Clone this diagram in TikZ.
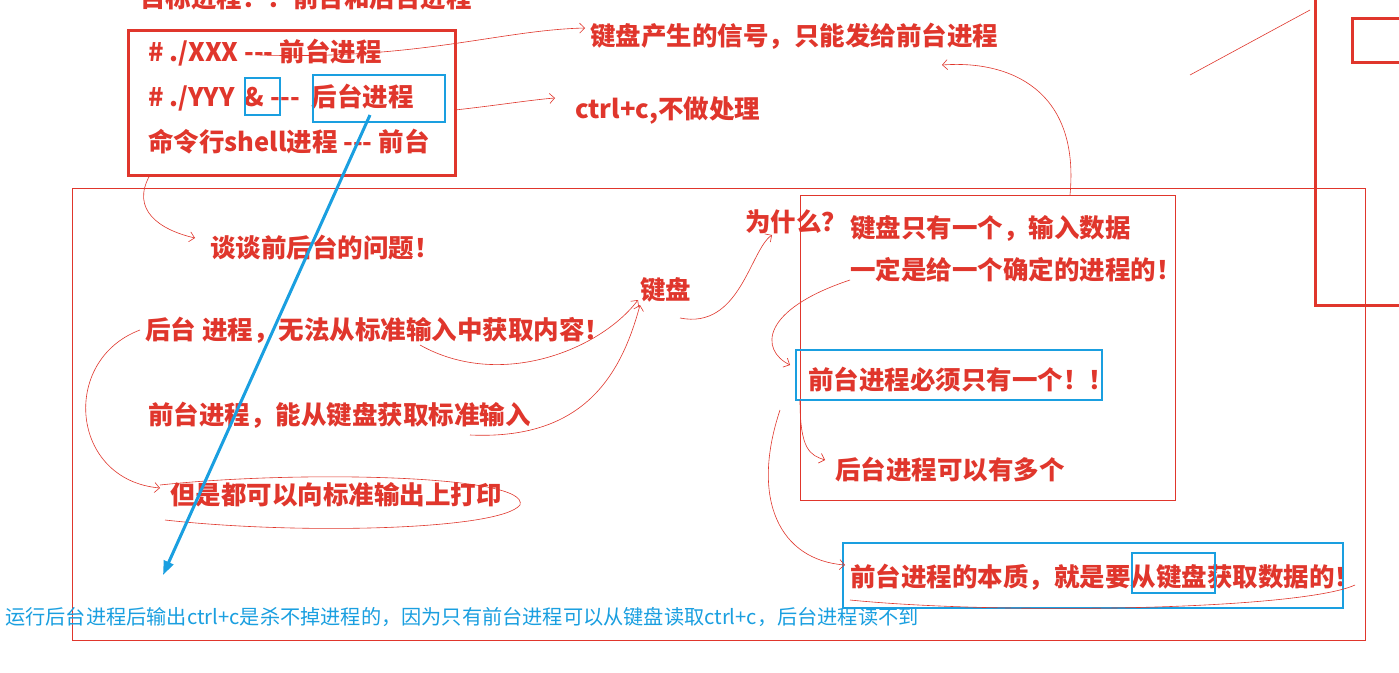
\documentclass[tikz,border=0pt]{standalone}
\usepackage{fontspec}
\setmainfont{Noto Sans CJK SC}
\usetikzlibrary{arrows.meta}
\definecolor{rd}{HTML}{E0362C}
\definecolor{bl}{HTML}{1A9FE0}
\tikzset{
  rt/.style={anchor=west,inner sep=0pt,text=rd,font=\fontsize{25.5}{28}\selectfont\bfseries},
  thin/.style={draw=rd,line width=0.6pt},
  bbox/.style={draw=bl,line width=1.3pt},
  hand/.style={draw=rd,line width=0.6pt,-{Straight Barb[length=5pt]}},
}
\begin{document}
\begin{tikzpicture}[x=1pt,y=-1pt]
\useasboundingbox (0,0) rectangle (1399,672);
\fill[white] (0,0) rectangle (1399,672);
\begin{scope}
\clip (0,0) rectangle (1399,672);
\node[rt] (title) at (140,-2) {目标进程：：前台和后台进程};
\end{scope}
\draw[rd,line width=3pt] (128,30) rectangle (455,175);
\node[rt] (l1) at (148,53) {\# ./XXX {-}{-}{-} 前台进程};
\node[rt] (l2) at (148,98) {\# ./YYY \,\& {-}{-}{-}\hspace{12pt}后台进程};
\node[rt] (l3) at (148,142) {命令行shell进程 {-}{-}{-} 前台};
\draw[bbox] (245,78) rectangle (280,115);
\draw[bbox] (313,75) rectangle (445,122);
\node[rt] (sig) at (590,36) {键盘产生的信号，只能发给前台进程};
\node[rt] (cc) at (575,110) {ctrl+c,不做处理};
\draw[thin] (72,188) rectangle (1365,640);
\node[rt] (talk) at (210,248) {谈谈前后台的问题！};
\node[rt] (bg) at (145,330) {后台 进程，无法从标准输入中获取内容！};
\node[rt] (fg) at (148,415) {前台进程，能从键盘获取标准输入};
\node[rt] (out) at (170,495) {但是都可以向标准输出上打印};
\node[rt] (kb) at (640,290) {键盘};
\node[rt] (why) at (745,222) {为什么？};
\draw[thin] (800,195) rectangle (1175,500);
\node[rt] (one) at (850,228) {键盘只有一个，输入数据};
\node[rt] (det) at (850,270) {一定是给一个确定的进程的！};
\node[rt] (must) at (808,380) {前台进程必须只有一个！！};
\draw[bbox] (796,350) rectangle (1102,400);
\node[rt] (many) at (835,470) {后台进程可以有多个};
\node[rt] (ess) at (850,577) {前台进程的本质，就是要从键盘获取数据的！};
\draw[bbox] (843,543) rectangle (1343,608);
\draw[bbox] (1132,553) rectangle (1215,593);
\draw[rd,line width=3pt] (1315,-5) -- (1315,305) -- (1405,305);
\draw[rd,line width=3pt] (1405,18) -- (1352,18) -- (1352,62) -- (1405,62);
% hand arrows
\draw[hand] (260,55) .. controls (420,60) and (500,30) .. (585,28);
\draw[hand] (455,110) .. controls (500,105) and (530,100) .. (555,98);
\draw[hand] (150,175) .. controls (130,210) and (160,230) .. (195,238);
\draw[hand] (420,345) .. controls (500,390) and (600,350) .. (638,300);
\draw[hand] (470,435) .. controls (580,440) and (620,380) .. (640,305);
\draw[hand] (680,318) .. controls (740,330) and (750,250) .. (772,235);
\draw[hand] (140,330) .. controls (60,360) and (70,480) .. (160,488);
\draw[hand] (1070,195) .. controls (1080,90) and (1010,60) .. (942,65);
\draw[hand] (850,280) .. controls (760,310) and (760,350) .. (790,365);
\draw[hand] (800,400) .. controls (800,450) and (810,455) .. (825,460);
\draw[hand] (780,410) .. controls (750,500) and (780,560) .. (845,565);
\draw[thin] (165,520) .. controls (300,535) and (500,530) .. (520,505) .. controls (530,475) and (300,470) .. (160,485);
\draw[thin] (850,600) .. controls (1000,615) and (1300,610) .. (1355,585);
\draw[thin] (1190,75) -- (1310,10);
\node[anchor=west,inner sep=0pt,text=bl,font=\fontsize{20.2}{22}\selectfont] (note) at (5,617) {运行后台进程后输出ctrl+c是杀不掉进程的，因为只有前台进程可以从键盘读取ctrl+c，后台进程读不到};
\coordinate (tip) at (163,575);
\draw[bl,line width=3pt,-{Triangle[length=14pt,width=10pt]}] (370,115) -- (tip);
\end{tikzpicture}
\end{document}
